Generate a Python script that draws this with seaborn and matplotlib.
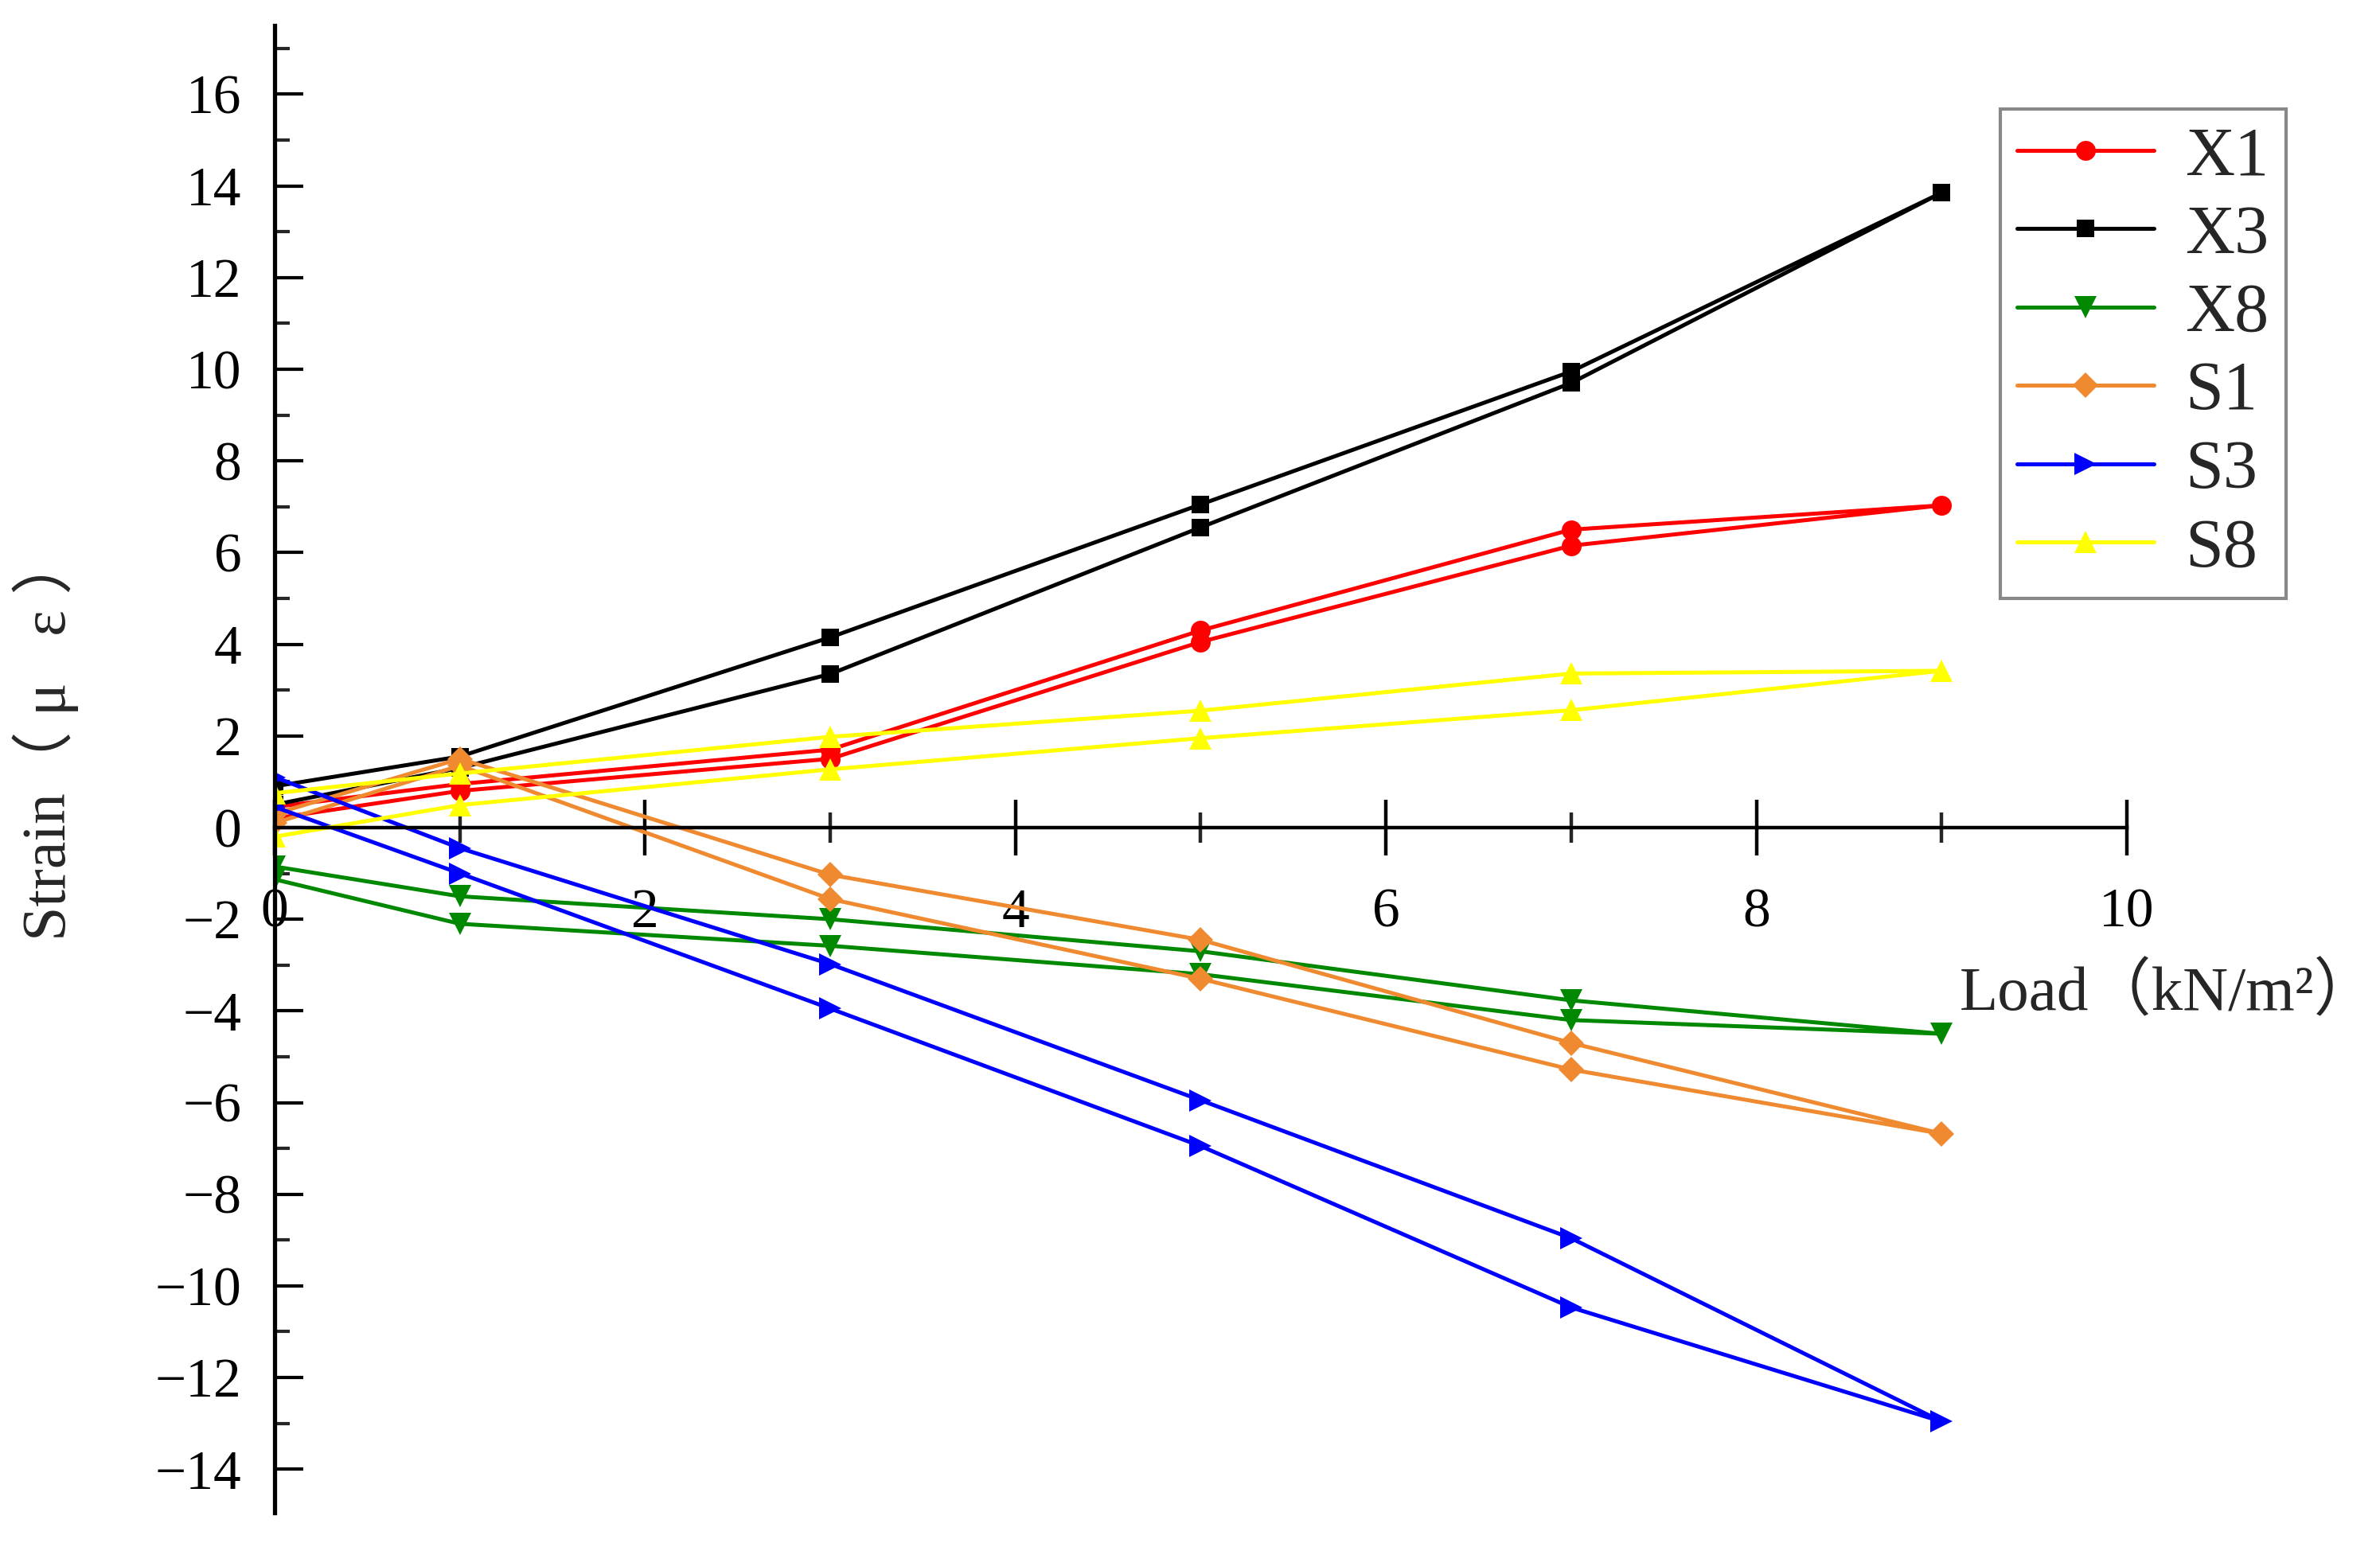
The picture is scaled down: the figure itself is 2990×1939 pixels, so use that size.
import numpy as np
import pandas as pd
import matplotlib
matplotlib.use("Agg")
import matplotlib.pyplot as plt
import seaborn as sns
from matplotlib.ticker import MultipleLocator

# ---- data ----
LOAD = [0, 1, 3, 5, 7, 9]           # loading path (kN/m2)
SERIES = ["X1", "X3", "X8", "S1", "S3", "S8"]

# upper branch at LOAD, lower branch at LOAD[:-1] (the peak at 9 is shared)
X1_UP = [0.45, 0.95, 1.70, 4.30, 6.50, 7.03]
X1_LO = [0.20, 0.80, 1.50, 4.05, 6.15]
X3_UP = [0.90, 1.55, 4.15, 7.05, 9.95, 13.85]
X3_LO = [0.50, 1.30, 3.35, 6.55, 9.70]
X8_UP = [-0.85, -1.50, -2.00, -2.70, -3.77, -4.50]
X8_LO = [-1.13, -2.10, -2.58, -3.20, -4.20]
S1_UP = [0.30, 1.50, -1.03, -2.45, -4.70, -6.68]
S1_LO = [0.10, 1.35, -1.56, -3.30, -5.28]
S3_UP = [1.10, -0.45, -2.98, -5.95, -8.96, -12.96]
S3_LO = [0.45, -1.00, -3.95, -6.95, -10.47]
S8_UP = [0.75, 1.18, 1.98, 2.55, 3.36, 3.42]
S8_LO = [-0.20, 0.49, 1.27, 1.95, 2.56]

UP = {"X1": X1_UP, "X3": X3_UP, "X8": X8_UP, "S1": S1_UP, "S3": S3_UP, "S8": S8_UP}
LO = {"X1": X1_LO, "X3": X3_LO, "X8": X8_LO, "S1": S1_LO, "S3": S3_LO, "S8": S8_LO}

COLORS = {"X1": "#FF0000", "X3": "#000000", "X8": "#008800",
          "S1": "#F08A30", "S3": "#0000FF", "S8": "#FFFF00"}
MARKERS = {"X1": "o", "X3": "s", "X8": "v", "S1": "D", "S3": ">", "S8": "^"}
MSIZE = {"X1": 9, "X3": 8, "X8": 10, "S1": 8, "S3": 10, "S8": 10}

rows = []
for s in SERIES:
    xs = LOAD + LOAD[-2::-1]
    ys = UP[s] + LO[s][::-1]
    for i, (x, y) in enumerate(zip(xs, ys)):
        rows.append({"series": s, "order": i, "load": x, "strain": y})
df = pd.DataFrame(rows)

sns.set_style("ticks")
plt.rcParams["font.family"] = ["Liberation Serif", "Noto Sans CJK SC"]

fig = plt.figure(figsize=(14.95, 9.695), dpi=200)
ax = fig.add_axes([0.1154, 0.0196, 0.8936 - 0.1154, 0.9835 - 0.0196])

for s in SERIES:
    d = df[df["series"] == s]
    sns.lineplot(data=d, x="load", y="strain", sort=False, estimator=None,
                 color=COLORS[s], marker=MARKERS[s], markersize=MSIZE[s],
                 markeredgewidth=0, linewidth=1.8, label=s, ax=ax)

ax.set_xlim(0, 10)
ax.set_ylim(-14.95, 17.5)
ax.set_xlabel("")
ax.set_ylabel("")

for sp in ["top", "right"]:
    ax.spines[sp].set_visible(False)
ax.spines["left"].set_position(("data", 0))
ax.spines["bottom"].set_position(("data", 0))
ax.spines["left"].set_linewidth(1.9)
ax.spines["bottom"].set_linewidth(1.6)
ax.spines["left"].set_color("black")
ax.spines["bottom"].set_color("black")

ax.xaxis.set_major_locator(MultipleLocator(2))
ax.xaxis.set_minor_locator(MultipleLocator(1))
ax.yaxis.set_major_locator(MultipleLocator(2))
ax.yaxis.set_minor_locator(MultipleLocator(1))

ax.tick_params(axis="x", which="major", direction="inout", length=25, width=1.6,
               pad=15, labelsize=25, colors="black")
ax.tick_params(axis="x", which="minor", direction="inout", length=14, width=1.6)
ax.tick_params(axis="y", which="major", direction="in", length=13, width=1.5,
               pad=15, labelsize=25, colors="black")
ax.tick_params(axis="y", which="minor", direction="in", length=7, width=1.5)

ax.set_yticks(np.arange(-14, 17, 2))

fig.text(57 / 2990, 1 - 925 / 1939, "Strain（ μ   ε ）", rotation=90,
         ha="center", va="center", fontsize=28)
fig.text(2462 / 2990, 1 - 1249 / 1939, "Load（kN/m²）",
         ha="left", va="center", fontsize=28.5)

leg = ax.legend(loc="upper right", bbox_to_anchor=(2872 / 2990, 1 - 137 / 1939),
                bbox_transform=fig.transFigure, fontsize=31, frameon=True,
                fancybox=False, edgecolor="#888888", handlelength=2.0,
                labelspacing=0.22, borderaxespad=0, handletextpad=0.45,
                borderpad=0.25)
leg.get_frame().set_linewidth(1.5)
leg.get_frame().set_alpha(1)

fig.savefig("out.png", dpi=200, facecolor="white")
